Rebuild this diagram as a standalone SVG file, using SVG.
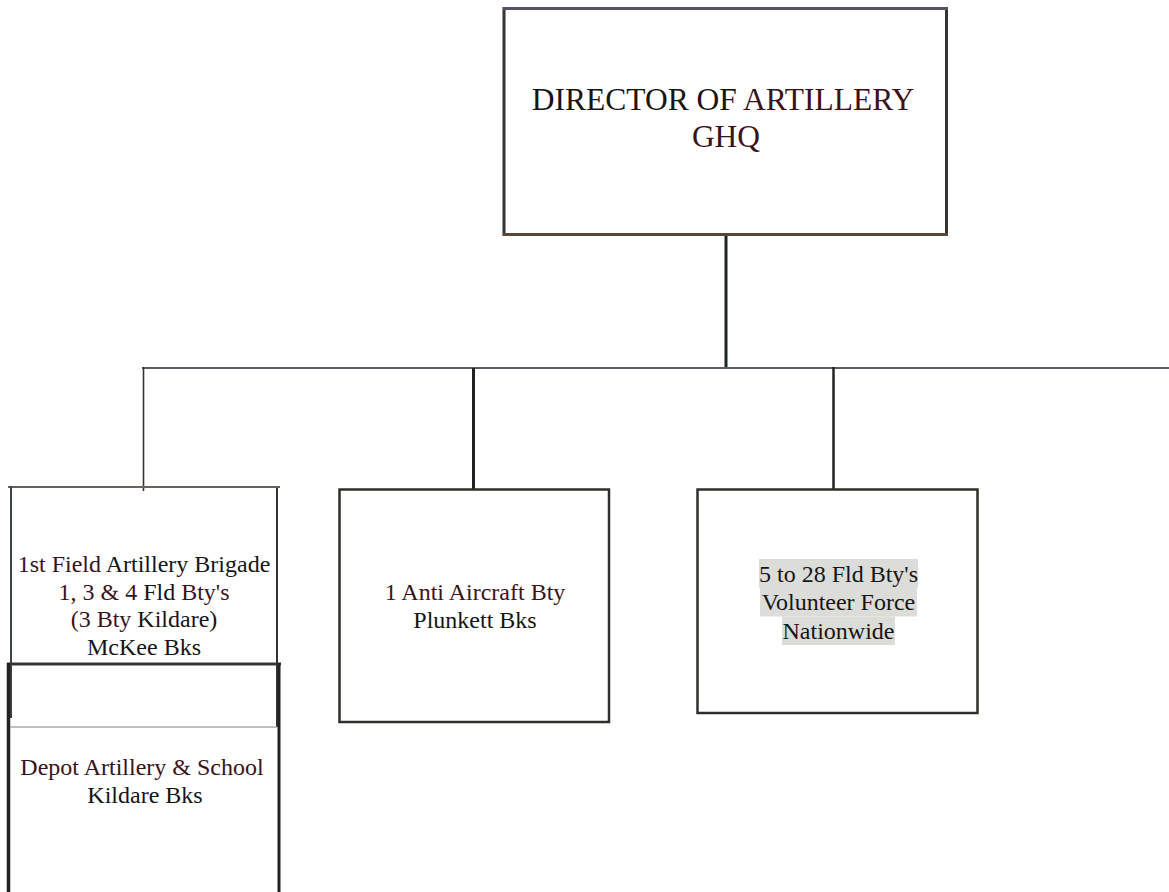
<svg xmlns="http://www.w3.org/2000/svg" width="1169" height="892" viewBox="0 0 1169 892">
<style>
text{font-family:"Liberation Serif","Times New Roman",serif;text-anchor:middle;fill:#151515}
.m{fill:#3b1219}
.b{fill:#151515}
.s{font-size:24px}
.big{font-size:31.5px}
.box{fill:#fff;stroke:#2e2e2a;stroke-width:2.5}
.hl{fill:#dcdcd8}
</style>
<rect width="1169" height="892" fill="#fff"/>
<g id="connectors" fill="none">
<line x1="726" y1="235" x2="726" y2="369" stroke="#1f2520" stroke-width="3"/>
<line x1="142" y1="368" x2="1169" y2="368" stroke="#5f5a68" stroke-width="2"/>
<line x1="143.5" y1="367" x2="143.5" y2="491" stroke="#333" stroke-width="1.6"/>
<line x1="473.5" y1="368" x2="473.5" y2="490" stroke="#222" stroke-width="3"/>
<line x1="833.5" y1="367" x2="833.5" y2="490" stroke="#222" stroke-width="2.5"/>
</g>
<g id="director">
<rect x="504" y="8.5" width="442.5" height="226" fill="#fff" stroke="#333" stroke-width="3"/>
<line x1="503" y1="8.5" x2="948" y2="8.5" stroke="#5a5060" stroke-width="3"/>
<line x1="503" y1="234.5" x2="948" y2="234.5" stroke="#584838" stroke-width="3"/>
<text class="big" x="723" y="110"><tspan class="b">DIRECTOR OF </tspan><tspan class="m">ARTILLERY</tspan></text>
<text class="big m" x="726" y="147">GHQ</text>
</g>
<g id="brigade">
<line x1="8" y1="487" x2="280" y2="487" stroke="#6a625a" stroke-width="2"/>
<line x1="11" y1="486" x2="11" y2="718" stroke="#3a4540" stroke-width="2"/>
<line x1="277" y1="488" x2="277" y2="727" stroke="#333" stroke-width="2"/>
<text class="s" x="144" y="572"><tspan class="m">1st Field</tspan><tspan class="b"> Artillery Brigade</tspan></text>
<text class="s" x="144" y="600"><tspan class="m">1, 3 &amp; 4</tspan><tspan class="b"> Fld</tspan><tspan class="m"> Bty's</tspan></text>
<text class="s" x="144" y="627"><tspan class="m">(3 Bty</tspan><tspan class="b"> Kildare)</tspan></text>
<text class="s b" x="144" y="655">McKee Bks</text>
</g>
<g id="depot">
<line x1="7" y1="664" x2="281" y2="664" stroke="#3a3632" stroke-width="3"/>
<line x1="8.5" y1="663" x2="8.5" y2="892" stroke="#222" stroke-width="3.5"/>
<line x1="279" y1="663" x2="279" y2="892" stroke="#222" stroke-width="3"/>
<line x1="10" y1="727" x2="277" y2="727" stroke="#aaa" stroke-width="1.5"/>
<text class="s m" x="142" y="775">Depot Artillery &amp; School</text>
<text class="s b" x="145" y="803">Kildare Bks</text>
</g>
<g id="antiaircraft">
<rect class="box" x="339.5" y="489.5" width="269.5" height="232.5"/>
<text class="s m" x="475" y="600">1 Anti Aircraft Bty</text>
<text class="s b" x="475" y="628">Plunkett Bks</text>
</g>
<g id="volunteer">
<rect class="box" x="697.5" y="489.5" width="280" height="223.5"/>
<rect class="hl" x="759" y="559" width="159" height="29"/>
<rect class="hl" x="760" y="588" width="157" height="28.5"/>
<rect class="hl" x="782" y="616.5" width="113" height="28.5"/>
<text class="s b" x="838.5" y="582">5 to 28 Fld Bty's</text>
<text class="s b" x="838.5" y="610">Volunteer Force</text>
<text class="s b" x="838.5" y="638.5">Nationwide</text>
</g>
</svg>
